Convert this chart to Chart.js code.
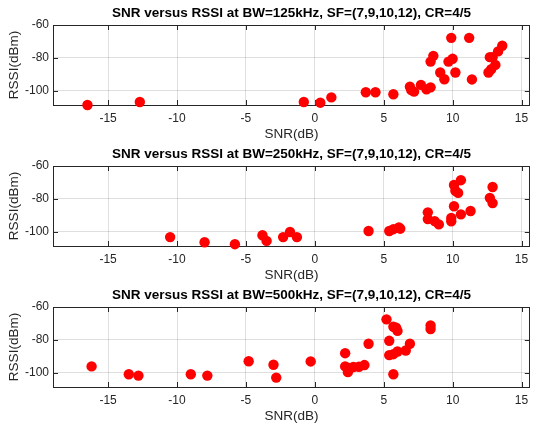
<!DOCTYPE html>
<html>
<head>
<meta charset="utf-8">
<script src="https://cdn.jsdelivr.net/npm/chart.js@4/dist/chart.umd.min.js"></script>
<style>
  html, body { margin: 0; padding: 0; background: #fff; }
  #wrap { position: relative; width: 535px; height: 428px; background: #fff; }
  .pane { position: absolute; left: 0; width: 535px; height: 141px; }
</style>
</head>
<body>
<div id="wrap">
  <div class="pane" style="top:0px"><canvas id="c1"></canvas></div>
  <div class="pane" style="top:141px"><canvas id="c2"></canvas></div>
  <div class="pane" style="top:282px"><canvas id="c3"></canvas></div>
</div>
<script>
// ---- data ----
const titles = [
  'SNR versus RSSI at BW=125kHz, SF=(7,9,10,12), CR=4/5',
  'SNR versus RSSI at BW=250kHz, SF=(7,9,10,12), CR=4/5',
  'SNR versus RSSI at BW=500kHz, SF=(7,9,10,12), CR=4/5'
];
const xLabel = 'SNR(dB)';
const yLabel = 'RSSI(dBm)';
const xTicks = [-15, -10, -5, 0, 5, 10, 15];
const yTicks = [-100, -80, -60];

const snr125  = [-16.5,-12.7,-0.8,0.4,1.2,3.7,4.4,5.7,6.9,7.0,7.2,7.7,8.1,8.4,8.4,8.6,9.1,9.4,9.7,10.0,9.9,10.2,11.2,11.4,12.6,12.8,13.1,12.7,12.9,13.3,13.6];
const rssi125 = [-108.5,-106.7,-106.7,-107.1,-103.9,-100.8,-100.8,-102,-97.4,-99.5,-100.4,-96.3,-99,-97.8,-82.2,-78.7,-88.8,-92.9,-82.2,-80.5,-67.8,-88.8,-67.8,-93,-88.8,-86.8,-84.2,-79.5,-79.5,-76,-72.6];

const snr250  = [-10.5,-8.0,-5.8,-3.8,-3.5,-2.3,-1.8,-1.3,3.9,5.4,5.7,6.1,6.2,8.2,8.2,8.7,9.0,9.9,9.9,10.1,10.1,10.2,10.4,10.6,10.6,11.3,12.7,12.9,12.9];
const rssi250 = [-103.1,-106.2,-107.4,-102,-105.4,-103.1,-100,-103.1,-99.4,-99.4,-98.3,-97.3,-98,-88.1,-92.2,-93.4,-95.4,-91.5,-93.5,-84.4,-71.5,-75,-76.3,-68.6,-89.3,-87.3,-79.3,-82.5,-72.7];

const snr500  = [-16.2,-13.5,-12.8,-9.0,-7.8,-4.8,-3.0,-2.8,-0.3,2.2,2.2,2.4,2.5,2.8,3.2,3.6,3.9,5.2,5.4,5.7,6.0,5.9,5.4,5.7,6.0,5.7,6.6,6.9,8.4,8.4];
const rssi500 = [-96,-100.8,-101.6,-100.8,-101.6,-92.9,-95,-102.8,-93,-88,-96,-99.5,-97,-96.4,-96.2,-95.2,-82.3,-67.5,-80.5,-72,-74.5,-72.5,-89.2,-88.6,-87,-100.8,-86.4,-82.3,-71.2,-73.4];

const xRange = [-19, 15.6];
const yRange = [-108.5, -60];

// ---- drawing ----
const FONT = "'Liberation Sans', Arial, Helvetica, sans-serif";
const AXIS_COLOR = '#262626';

const matlabBox = {
  id: 'matlabBox',
  beforeDatasetsDraw(chart) {
    const { ctx, chartArea: a, scales } = chart;
    const tl = 5;
    ctx.save();
    ctx.strokeStyle = AXIS_COLOR;
    ctx.lineWidth = 1;
    ctx.beginPath();
    scales.x.ticks.forEach(t => {
      const px = Math.round(scales.x.getPixelForValue(t.value)) + 0.5;
      ctx.moveTo(px, a.bottom); ctx.lineTo(px, a.bottom - tl);
      ctx.moveTo(px, a.top); ctx.lineTo(px, a.top + tl);
    });
    scales.y.ticks.forEach(t => {
      const py = Math.round(scales.y.getPixelForValue(t.value)) + 0.5;
      ctx.moveTo(a.left, py); ctx.lineTo(a.left + tl, py);
      ctx.moveTo(a.right, py); ctx.lineTo(a.right - tl, py);
    });
    ctx.stroke();
    ctx.strokeRect(Math.round(a.left) + 0.5, Math.round(a.top) + 0.5,
                   Math.round(a.right - a.left) - 1, Math.round(a.bottom - a.top));
    ctx.restore();
  }
};

function makeChart(id, title, xs, ys) {
  const pts = xs.map((x, i) => ({ x: x, y: ys[i] }));
  return new Chart(document.getElementById(id), {
    type: 'scatter',
    data: {
      datasets: [{
        data: pts,
        backgroundColor: '#ff0000',
        borderWidth: 0,
        pointRadius: 5.2,
        pointHoverRadius: 5.2,
        clip: false
      }]
    },
    options: {
      responsive: true,
      maintainAspectRatio: false,
      animation: false,
      events: [],
      layout: { padding: { left: 0, right: 1, top: 0, bottom: 0 } },
      plugins: {
        legend: { display: false },
        tooltip: { enabled: false },
        title: {
          display: true,
          text: title,
          fullSize: false,
          color: '#000',
          font: { family: FONT, size: 13.5, weight: 'bold', lineHeight: 1.2 },
          padding: { top: 5, bottom: 3.8 }
        }
      },
      scales: {
        x: {
          type: 'linear',
          min: xRange[0], max: xRange[1],
          afterBuildTicks: s => { s.ticks = xTicks.map(v => ({ value: v })); },
          afterFit: s => { s.height = 36; },
          grid: { color: 'rgba(38,38,38,0.15)', drawTicks: false, lineWidth: 1 },
          border: { display: false },
          ticks: { color: AXIS_COLOR, padding: 6, font: { family: FONT, size: 12 }, maxRotation: 0 },
          title: { display: true, text: xLabel, color: AXIS_COLOR,
                   font: { family: FONT, size: 13.5, lineHeight: 1 }, padding: { top: 0, bottom: 0 } }
        },
        y: {
          type: 'linear',
          min: yRange[0], max: yRange[1],
          afterBuildTicks: s => { s.ticks = yTicks.map(v => ({ value: v })); },
          afterFit: s => { s.width = 53; },
          grid: { color: 'rgba(38,38,38,0.15)', drawTicks: false, lineWidth: 1 },
          border: { display: false },
          ticks: { color: AXIS_COLOR, padding: 4, font: { family: FONT, size: 12 } },
          title: { display: true, text: yLabel, color: AXIS_COLOR,
                   font: { family: FONT, size: 13.5, lineHeight: 1 }, padding: { top: 8, bottom: 0 } }
        }
      }
    },
    plugins: [matlabBox]
  });
}

makeChart('c1', titles[0], snr125, rssi125);
makeChart('c2', titles[1], snr250, rssi250);
makeChart('c3', titles[2], snr500, rssi500);
</script>
</body>
</html>
